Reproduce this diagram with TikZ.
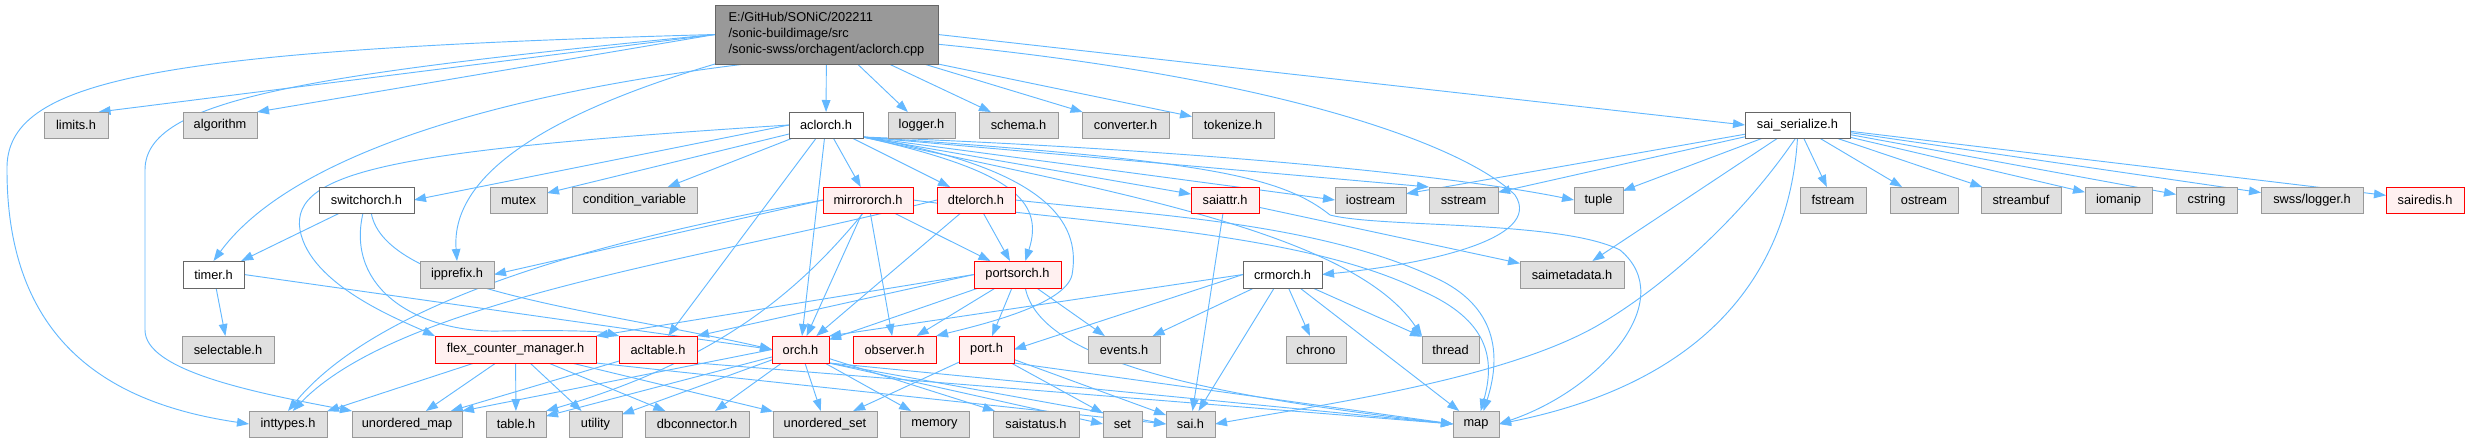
\documentclass[tikz,border=0pt]{standalone}
\usepackage{fontspec}
\setmainfont{Liberation Sans}
\usetikzlibrary{arrows.meta,backgrounds}
\definecolor{edgec}{HTML}{63B8FF}
\definecolor{gfill}{HTML}{E0E0E0}
\definecolor{gdraw}{HTML}{999999}
\definecolor{rfill}{HTML}{FFF0F0}
\definecolor{rdraw}{HTML}{FF0000}
\definecolor{wdraw}{HTML}{666666}
\definecolor{rootfill}{HTML}{999999}
\tikzset{
  box/.style={rectangle, inner sep=0pt, outer sep=0pt, line width=0.75pt,
    font=\fontsize{9.6}{12}\selectfont, text=black},
  gnode/.style={box, fill=gfill, draw=gdraw},
  rnode/.style={box, fill=rfill, draw=rdraw},
  wnode/.style={box, fill=white, draw=wdraw},
  rootnode/.style={box, fill=rootfill, draw=wdraw, align=left},
  e/.style={draw=edgec, line width=0.7pt, -{Triangle[length=9pt,width=6.5pt]}},
}
\newcommand{\mk}[7]{\node[#1, minimum width={(#4-#2)*0.75pt}, minimum height={(#5-#3)*0.75pt}] (#6) at ({(#2+#4)/2},{(#3+#5)/2}) {#7};}
\begin{document}
\begin{tikzpicture}[x=0.75pt,y=-0.75pt]
\useasboundingbox (0,0) rectangle (2469,443);
% row 0
\mk{rootnode}{715}{5}{938}{64}{root}{E:/GitHub/SONiC/202211\\/sonic-buildimage/src\\/sonic-swss/orchagent/aclorch.cpp}
% row 1
\mk{gnode}{44}{112}{108}{138}{limits}{limits.h}
\mk{gnode}{183}{112}{257}{138}{algorithm}{algorithm}
\mk{wnode}{789}{112}{863}{138}{aclorch}{aclorch.h}
\mk{gnode}{888}{112}{955}{138}{logger}{logger.h}
\mk{gnode}{979}{112}{1058}{138}{schema}{schema.h}
\mk{gnode}{1082}{112}{1169}{138}{converter}{converter.h}
\mk{gnode}{1192}{112}{1274}{138}{tokenize}{tokenize.h}
\mk{wnode}{1745}{112}{1850}{138}{saiser}{sai\_serialize.h}
% row 2
\mk{wnode}{319}{187}{414}{213}{switchorch}{switchorch.h}
\mk{gnode}{490}{187}{547}{213}{mutex}{mutex}
\mk{gnode}{572}{187}{697}{213}{condvar}{condition\_variable}
\mk{rnode}{823}{187}{913}{213}{mirrororch}{mirrororch.h}
\mk{rnode}{937}{187}{1015}{213}{dtelorch}{dtelorch.h}
\mk{rnode}{1191}{187}{1259}{213}{saiattr}{saiattr.h}
\mk{gnode}{1335}{187}{1406}{213}{iostream}{iostream}
\mk{gnode}{1429}{187}{1498}{213}{sstream}{sstream}
\mk{gnode}{1574}{187}{1623}{213}{tuple}{tuple}
\mk{gnode}{1800}{187}{1866}{213}{fstream}{fstream}
\mk{gnode}{1890}{187}{1958}{213}{ostream}{ostream}
\mk{gnode}{1981}{187}{2061}{213}{streambuf}{streambuf}
\mk{gnode}{2085}{187}{2152}{213}{iomanip}{iomanip}
\mk{gnode}{2176}{187}{2237}{213}{cstring}{cstring}
\mk{gnode}{2261}{187}{2363}{213}{swsslogger}{swss/logger.h}
\mk{rnode}{2386}{187}{2464}{213}{sairedis}{sairedis.h}
% row 3
\mk{wnode}{183}{261}{244}{288}{timer}{timer.h}
\mk{gnode}{420}{261}{494}{288}{ipprefix}{ipprefix.h}
\mk{rnode}{974}{261}{1061}{288}{portsorch}{portsorch.h}
\mk{wnode}{1243}{261}{1322}{288}{crmorch}{crmorch.h}
\mk{gnode}{1520}{261}{1624}{288}{saimeta}{saimetadata.h}
% row 4
\mk{gnode}{182}{336}{274}{363}{selectable}{selectable.h}
\mk{rnode}{435}{336}{596}{363}{flex}{flex\_counter\_manager.h}
\mk{rnode}{619}{336}{697}{363}{acltable}{acltable.h}
\mk{rnode}{772}{336}{829}{363}{orch}{orch.h}
\mk{rnode}{853}{336}{936}{363}{observer}{observer.h}
\mk{rnode}{959}{336}{1014}{363}{port}{port.h}
\mk{gnode}{1088}{336}{1160}{363}{events}{events.h}
\mk{gnode}{1286}{336}{1346}{363}{chrono}{chrono}
\mk{gnode}{1422}{336}{1479}{363}{thread}{thread}
% row 5
\mk{gnode}{249}{411}{327}{437}{inttypes}{inttypes.h}
\mk{gnode}{352}{411}{462}{437}{umap}{unordered\_map}
\mk{gnode}{486}{411}{546}{437}{table}{table.h}
\mk{gnode}{569}{411}{622}{437}{utility}{utility}
\mk{gnode}{645}{411}{749}{437}{dbconn}{dbconnector.h}
\mk{gnode}{773}{411}{877}{437}{uset}{unordered\_set}
\mk{gnode}{900}{411}{969}{437}{memory}{memory}
\mk{gnode}{993}{411}{1079}{437}{saistatus}{saistatus.h}
\mk{gnode}{1103}{411}{1142}{437}{set}{set}
\mk{gnode}{1166}{411}{1215}{437}{sai}{sai.h}
\mk{gnode}{1453}{411}{1499}{437}{map}{map}

\begin{pgfonlayer}{background}
% root
\draw[e] (root) -- (aclorch);
\draw[e] (root) -- (logger);
\draw[e] (root) -- (schema);
\draw[e] (root) -- (converter);
\draw[e] (root.south east) -- (tokenize);
\draw[e] (root.east) -- (saiser.west);
\draw[e] (root.-5) .. controls (1300,80) and (1470,150) .. (1515,195) .. controls (1545,240) and (1420,265) .. (crmorch.east);
\draw[e] (root.west) -- (limits.30);
\draw[e] (root.west) -- (algorithm.north east);
\draw[e] (root.200) .. controls (450,100) and (280,170) .. (timer.north);
\draw[e] (root.south west) .. controls (560,110) and (450,170) .. (ipprefix.north);
\draw[e] (root.west) .. controls (150,50) and (5,80) .. (7,170) .. controls (7,350) and (120,405) .. (inttypes.west);
\draw[e] (root.west) .. controls (300,75) and (145,100) .. (145,170) -- (145,330) .. controls (145,370) and (250,392) .. (umap.north west);
% aclorch
\draw[e] (aclorch.west) -- (switchorch.east);
\draw[e] (aclorch.west) .. controls (400,150) and (290,170) .. (300,230) .. controls (310,285) and (400,320) .. (flex.north west);
\draw[e] (aclorch) -- (mutex);
\draw[e] (aclorch) -- (condvar);
\draw[e] (aclorch) -- (acltable);
\draw[e] (aclorch) -- (orch);
\draw[e] (aclorch) -- (mirrororch);
\draw[e] (aclorch) -- (dtelorch);
\draw[e] (aclorch.-18) .. controls (1010,170) and (1045,200) .. (portsorch.60);
\draw[e] (aclorch.-18) .. controls (1060,170) and (1080,230) .. (1072,275) .. controls (1065,305) and (980,325) .. (observer.north east);
\draw[e] (aclorch.-18) -- (saiattr);
\draw[e] (aclorch.-18) -- (iostream.west);
\draw[e] (aclorch.-18) -- (sstream.north west);
\draw[e] (aclorch.-18) .. controls (1200,150) and (1450,175) .. (tuple.west);
\draw[e] (aclorch.-18) .. controls (1100,190) and (1350,230) .. (thread.north west);
\draw[e] (aclorch.-18) .. controls (1200,160) and (1280,175) .. (1330,215) .. controls (1380,228) and (1560,220) .. (1620,250) .. controls (1680,300) and (1600,390) .. (map.east);
% switchorch
\draw[e] (switchorch) -- (timer);
\draw[e] (switchorch.255) .. controls (345,290) and (420,333) .. (500,331) .. controls (560,330) and (600,331) .. (acltable.north west);
\draw[e] (switchorch.290) .. controls (385,290) and (600,310) .. (orch.west);
% timer
\draw[e] (timer) -- (selectable);
\draw[e] (timer.east) -- (orch.west);
% mirrororch
\draw[e] (mirrororch.west) -- (ipprefix.east);
\draw[e] (mirrororch.west) .. controls (600,240) and (380,300) .. (inttypes.north);
\draw[e] (mirrororch) -- (orch);
\draw[e] (mirrororch) -- (observer);
\draw[e] (mirrororch) -- (portsorch);
\draw[e] (mirrororch.250) .. controls (800,290) and (720,360) .. (table.north east);
\draw[e] (mirrororch.east) .. controls (1100,225) and (1300,232) .. (1420,290) .. controls (1490,320) and (1495,360) .. (map.70);
% dtelorch
\draw[e] (dtelorch) -- (portsorch);
\draw[e] (dtelorch) -- (orch);
\draw[e] (dtelorch.west) .. controls (700,260) and (400,300) .. (inttypes.70);
\draw[e] (dtelorch.east) .. controls (1150,215) and (1320,222) .. (1440,280) .. controls (1500,310) and (1500,360) .. (map.60);
% saiattr
\draw[e] (saiattr) -- (sai);
\draw[e] (saiattr) -- (saimeta);
% portsorch
\draw[e] (portsorch.west) -- (flex.north east);
\draw[e] (portsorch.west) -- (acltable.north east);
\draw[e] (portsorch) -- (orch);
\draw[e] (portsorch) -- (observer);
\draw[e] (portsorch) -- (port);
\draw[e] (portsorch) -- (events);
\draw[e] (portsorch.300) .. controls (1040,360) and (1200,395) .. (map.west);
% crmorch
\draw[e] (crmorch.west) -- (orch.north east);
\draw[e] (crmorch.west) -- (port.east);
\draw[e] (crmorch) -- (events);
\draw[e] (crmorch) -- (chrono);
\draw[e] (crmorch) -- (thread);
\draw[e] (crmorch) -- (map);
\draw[e] (crmorch) -- (sai);
% sai_serialize
\draw[e] (saiser) -- (iostream);
\draw[e] (saiser) -- (sstream);
\draw[e] (saiser) -- (tuple);
\draw[e] (saiser) -- (saimeta);
\draw[e] (saiser) -- (fstream);
\draw[e] (saiser) -- (ostream);
\draw[e] (saiser) -- (streambuf);
\draw[e] (saiser) -- (iomanip);
\draw[e] (saiser) -- (cstring);
\draw[e] (saiser) -- (swsslogger);
\draw[e] (saiser) -- (sairedis);
\draw[e] (saiser.262) .. controls (1740,220) and (1660,290) .. (1595,327) .. controls (1500,380) and (1320,405) .. (sai.east);
\draw[e] (saiser.270) .. controls (1790,260) and (1720,380) .. (map.east);
% orch
\draw[e] (orch.west) -- (umap.north east);
\draw[e] (orch) -- (table);
\draw[e] (orch) -- (utility);
\draw[e] (orch) -- (dbconn);
\draw[e] (orch) -- (uset);
\draw[e] (orch) -- (memory);
\draw[e] (orch) -- (saistatus);
\draw[e] (orch.south east) -- (set.west);
\draw[e] (orch.south east) -- (sai.west);
\draw[e] (orch.south east) -- (map.west);
% flex
\draw[e] (flex) -- (inttypes);
\draw[e] (flex) -- (umap);
\draw[e] (flex) -- (table);
\draw[e] (flex) -- (utility);
\draw[e] (flex) -- (dbconn);
\draw[e] (flex) -- (uset);
\draw[e] (flex.south east) -- (sai.west);
% acltable
\draw[e] (acltable) -- (umap);
\draw[e] (acltable.south east) -- (map.west);
% port
\draw[e] (port) -- (uset);
\draw[e] (port) -- (set);
\draw[e] (port) -- (sai);
\draw[e] (port.south east) -- (map.west);
\end{pgfonlayer}
\end{tikzpicture}
\end{document}
